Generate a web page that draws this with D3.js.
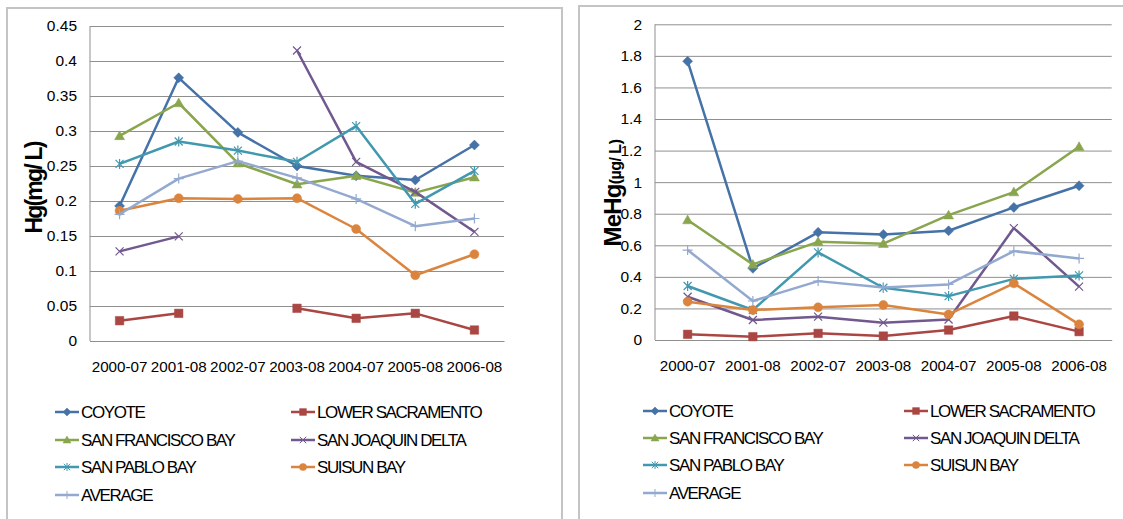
<!DOCTYPE html>
<html><head><meta charset="utf-8">
<script src="https://cdn.jsdelivr.net/npm/d3@7"></script>
<style>body{margin:0;background:#fff}svg{display:block}text{font-family:"Liberation Sans",Arial,sans-serif}</style>
</head><body><svg id="c" width="1123" height="519"></svg>
<script>
// ---------- data ----------
const categories = ["2000-07","2001-08","2002-07","2003-08","2004-07","2005-08","2006-08"];
const seriesNames = ["COYOTE","LOWER SACRAMENTO","SAN FRANCISCO BAY","SAN JOAQUIN DELTA","SAN PABLO BAY","SUISUN BAY","AVERAGE"];
const seriesColors = ["#4572A7","#AA4643","#89A54E","#71588F","#4198AF","#DB843D","#93A9CF"];
const seriesMarkers = ["diamond","square","triangle","times","asterisk","circle","plus"];

// Hg (mg/L)
const hgCoyote      = [0.193, 0.376, 0.298, 0.250, 0.236, 0.230, 0.280];
const hgLowerSac    = [0.029, 0.0395, null, 0.0467, 0.0324, 0.0395, 0.0157];
const hgSFBay       = [0.293, 0.340, 0.254, 0.224, 0.236, 0.212, 0.234];
const hgSJDelta     = [0.128, 0.1495, null, 0.415, 0.256, 0.213, 0.156];
const hgSanPablo    = [0.253, 0.285, 0.272, 0.256, 0.307, 0.196, 0.243];
const hgSuisun      = [0.186, 0.204, 0.203, 0.204, 0.160, 0.094, 0.124];
const hgAverage     = [0.181, 0.232, 0.257, 0.233, 0.203, 0.164, 0.175];
const hgTicks  = [0,0.05,0.1,0.15,0.2,0.25,0.3,0.35,0.4,0.45];
const hgTickLabels = ["0","0.05","0.1","0.15","0.2","0.25","0.3","0.35","0.4","0.45"];

// MeHg (ug/L)
const mehgCoyote    = [1.766, 0.454, 0.682, 0.669, 0.692, 0.840, 0.977];
const mehgLowerSac  = [0.036, 0.021, 0.042, 0.025, 0.063, 0.152, 0.053];
const mehgSFBay     = [0.760, 0.479, 0.622, 0.610, 0.791, 0.937, 1.224];
const mehgSJDelta   = [0.274, 0.127, 0.148, 0.110, 0.130, 0.709, 0.338];
const mehgSanPablo  = [0.342, 0.190, 0.555, 0.331, 0.278, 0.387, 0.409];
const mehgSuisun    = [0.243, 0.190, 0.207, 0.222, 0.162, 0.359, 0.099];
const mehgAverage   = [0.570, 0.247, 0.373, 0.333, 0.352, 0.563, 0.517];
const mehgTicks = [0,0.2,0.4,0.6,0.8,1,1.2,1.4,1.6,1.8,2];
const mehgTickLabels = ["0","0.2","0.4","0.6","0.8","1","1.2","1.4","1.6","1.8","2"];

// ---------- drawing ----------
const svg = d3.select("#c");

// frames
svg.append("path").attr("d","M7,519V8H562V519").attr("fill","none").attr("stroke","#c4c4c4").attr("stroke-width",2);
svg.append("path").attr("d","M579,519V6H1123").attr("fill","none").attr("stroke","#c4c4c4").attr("stroke-width",2);

function markerPath(type, r){
  const p = d3.path();
  switch(type){
    case "diamond": p.moveTo(0,-r); p.lineTo(r,0); p.lineTo(0,r); p.lineTo(-r,0); p.closePath(); break;
    case "square": { const s=r*0.85; p.rect(-s,-s,2*s,2*s); break; }
    case "triangle": p.moveTo(0,-r); p.lineTo(r,r*0.75); p.lineTo(-r,r*0.75); p.closePath(); break;
    case "circle": p.arc(0,0,r*0.9,0,2*Math.PI); break;
    case "times": { const s=r*0.8; p.moveTo(-s,-s); p.lineTo(s,s); p.moveTo(s,-s); p.lineTo(-s,s); break; }
    case "asterisk": { const s=r*0.8; p.moveTo(-s,-s); p.lineTo(s,s); p.moveTo(s,-s); p.lineTo(-s,s); p.moveTo(0,-r); p.lineTo(0,r); break; }
    case "plus": p.moveTo(-r,0); p.lineTo(r,0); p.moveTo(0,-r); p.lineTo(0,r); break;
  }
  return p.toString();
}
const strokeMarkers = new Set(["times","asterisk","plus"]);

function drawChart(cfg){
  const g = svg.append("g");
  const x = d3.scaleBand().domain(categories).range([cfg.left, cfg.right]);
  const y = d3.scaleLinear().domain(cfg.domain).range([cfg.bottom, cfg.top]);

  // gridlines + y labels
  const ya = d3.axisLeft(y).tickValues(cfg.ticks)
      .tickFormat((d,i)=>cfg.tickLabels[i])
      .tickSize(-(cfg.right-cfg.left)).tickPadding(13);
  const yg = g.append("g").attr("transform",`translate(${cfg.left},0)`).call(ya);
  yg.select(".domain").remove();
  yg.selectAll(".tick line").attr("stroke","#8f8f8f").attr("stroke-width",1);
  yg.selectAll(".tick text").attr("fill","#000").style("font-size","15.5px")
    .style("font-family",'"Liberation Sans",Arial,sans-serif');
  // vertical axis line
  g.append("line").attr("x1",cfg.left).attr("x2",cfg.left).attr("y1",cfg.top).attr("y2",cfg.bottom)
    .attr("stroke","#8f8f8f").attr("stroke-width",1);

  // x axis
  const xa = d3.axisBottom(x).tickSize(0).tickPadding(20);
  const xg = g.append("g").attr("transform",`translate(0,${cfg.bottom})`).call(xa);
  xg.select(".domain").attr("stroke","#8f8f8f");
  xg.selectAll(".tick text").attr("fill","#000").style("font-size","15.2px")
    .style("font-family",'"Liberation Sans",Arial,sans-serif');

  // y title
  const t = g.append("text").attr("transform",`translate(${cfg.titleX},${cfg.titleY}) rotate(-90)`)
    .attr("text-anchor","middle").attr("font-weight","bold").attr("fill","#000");
  cfg.title.forEach(part=>{
    t.append("tspan").text(part.text).style("font-size",part.size+"px").style("letter-spacing",part.ls+"px");
  });

  // series
  cfg.series.forEach((vals,si)=>{
    const col = seriesColors[si];
    const line = d3.line().defined(d=>d!=null)
      .x((d,i)=>x(categories[i])+x.bandwidth()/2).y(d=>y(d));
    g.append("path").datum(vals).attr("d",line).attr("fill","none")
      .attr("stroke",col).attr("stroke-width",2.5).attr("stroke-linejoin","round");
    const type = seriesMarkers[si];
    g.selectAll(null).data(vals.map((v,i)=>({v,i})).filter(d=>d.v!=null)).enter()
      .append("path")
      .attr("transform",d=>`translate(${x(categories[d.i])+x.bandwidth()/2},${y(d.v)})`)
      .attr("d",markerPath(type,5))
      .attr("fill",strokeMarkers.has(type)?"none":col)
      .attr("stroke",col).attr("stroke-width",strokeMarkers.has(type)?1.2:0.5);
  });

  // legend
  seriesNames.forEach((name,si)=>{
    const col = seriesColors[si];
    const cx = cfg.legendX[si%2], cy = cfg.legendY[Math.floor(si/2)];
    const lg = g.append("g").attr("transform",`translate(${cx},${cy})`);
    lg.append("line").attr("x1",0).attr("x2",24).attr("stroke",col).attr("stroke-width",2.5);
    const type = seriesMarkers[si];
    lg.append("path").attr("transform","translate(12,0)").attr("d",markerPath(type,4))
      .attr("fill",strokeMarkers.has(type)?"none":col).attr("stroke",col).attr("stroke-width",strokeMarkers.has(type)?1:0.5);
    lg.append("text").attr("x",26).attr("y",6).text(name).attr("fill","#000")
      .style("font-size","17px").style("letter-spacing","-1.4px");
  });
}

drawChart({
  left:90, right:504, top:26, bottom:341, domain:[0,0.45],
  ticks:hgTicks, tickLabels:hgTickLabels,
  series:[hgCoyote,hgLowerSac,hgSFBay,hgSJDelta,hgSanPablo,hgSuisun,hgAverage],
  title:[{text:"Hg(mg/ L)",size:23,ls:-1.8}], titleX:42, titleY:188,
  legendX:[55,291], legendY:[412,440,467,495]
});
drawChart({
  left:655, right:1111.7, top:24.3, bottom:340, domain:[0,2],
  ticks:mehgTicks, tickLabels:mehgTickLabels,
  series:[mehgCoyote,mehgLowerSac,mehgSFBay,mehgSJDelta,mehgSanPablo,mehgSuisun,mehgAverage],
  title:[{text:"MeHg",size:24,ls:-0.8},{text:"(µg/ L)",size:16,ls:-0.5}], titleX:621, titleY:193,
  legendX:[643,904], legendY:[411,438,465,493]
});
</script></body></html>
